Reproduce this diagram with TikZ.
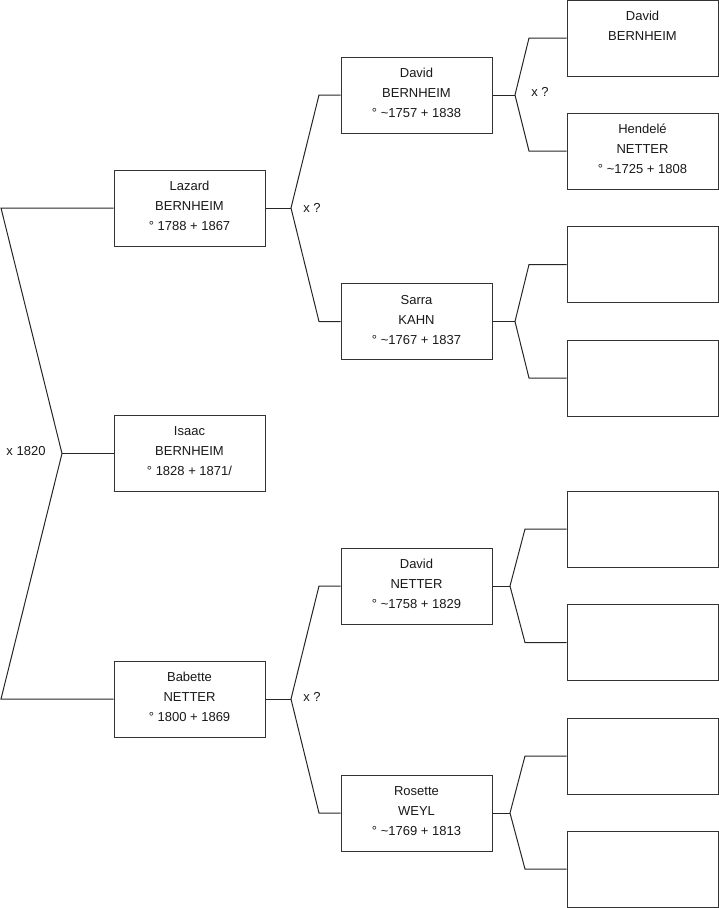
\documentclass[tikz,border=0pt]{standalone}
\usepackage{fontspec}
\setmainfont{Liberation Sans}
\begin{document}
\begin{tikzpicture}[x=1pt,y=-1pt,
  person/.style={draw=black!80, line width=1pt, fill=white, minimum width=151pt, minimum height=76pt,
    inner sep=0pt, align=center, font=\fontsize{13}{20}\selectfont, text=black!90},
  link/.style={draw=black!85, line width=1pt},
  lbl/.style={font=\fontsize{13}{14}\selectfont, inner sep=0pt, text=black!90}]
\useasboundingbox (0,0) rectangle (719,908);
% level 1
\node[person] (lazard)  at (189.5,208) {Lazard\\BERNHEIM\\° 1788 + 1867\\[-16pt]};
\node[person] (isaac)   at (189.5,453.5) {Isaac\\BERNHEIM\\° 1828 + 1871/\\[-16pt]};
\node[person] (babette) at (189.5,699) {Babette\\NETTER\\° 1800 + 1869\\[-16pt]};
% level 2
\node[person] (davidb)  at (416.5,95) {David\\BERNHEIM\\° \textasciitilde1757 + 1838\\[-16pt]};
\node[person] (sarra)   at (416.5,321.5) {Sarra\\KAHN\\° \textasciitilde1767 + 1837\\[-16pt]};
\node[person] (davidn)  at (416.5,586) {David\\NETTER\\° \textasciitilde1758 + 1829\\[-16pt]};
\node[person] (rosette) at (416.5,813) {Rosette\\WEYL\\° \textasciitilde1769 + 1813\\[-16pt]};
% level 3
\node[person] (g1) at (642.5,38)  {David\\BERNHEIM\\\mbox{}\\[-16pt]};
\node[person] (g2) at (642.5,151) {Hendelé\\NETTER\\° \textasciitilde1725 + 1808\\[-16pt]};
\node[person] (g3) at (642.5,264.5) {};
\node[person] (g4) at (642.5,378) {};
\node[person] (g5) at (642.5,529) {};
\node[person] (g6) at (642.5,642.5) {};
\node[person] (g7) at (642.5,756) {};
\node[person] (g8) at (642.5,869) {};
% root bracket
\coordinate (r0) at (62,453.5);
\coordinate (r0a) at (1,208);
\coordinate (r0b) at (1,699);
\draw[link] (lazard.west) -- (r0a) -- (r0) -- (r0b) -- (babette.west);
\draw[link] (r0) -- (isaac.west);
\node[lbl] (m0) at (26,451) {x 1820};
% Lazard
\coordinate (r1) at (291,208);
\coordinate (r1a) at (319,95);
\coordinate (r1b) at (319,321.5);
\draw[link] (lazard.east) -- (r1);
\draw[link] (davidb.west) -- (r1a) -- (r1) -- (r1b) -- (sarra.west);
\node[lbl] (m1) at (312,208) {x ?};
% Babette
\coordinate (r2) at (291,699);
\coordinate (r2a) at (319,586);
\coordinate (r2b) at (319,813);
\draw[link] (babette.east) -- (r2);
\draw[link] (davidn.west) -- (r2a) -- (r2) -- (r2b) -- (rosette.west);
\node[lbl] (m2) at (312,697) {x ?};
% David Bernheim
\coordinate (r3) at (515,95);
\coordinate (r3a) at (529,38);
\coordinate (r3b) at (529,151);
\draw[link] (davidb.east) -- (r3);
\draw[link] (g1.west) -- (r3a) -- (r3) -- (r3b) -- (g2.west);
\node[lbl] (m3) at (540,92) {x ?};
% Sarra
\coordinate (r4) at (515,321.5);
\coordinate (r4a) at (529,264.5);
\coordinate (r4b) at (529,378);
\draw[link] (sarra.east) -- (r4);
\draw[link] (g3.west) -- (r4a) -- (r4) -- (r4b) -- (g4.west);
% David Netter
\coordinate (r5) at (510,586);
\coordinate (r5a) at (525,529);
\coordinate (r5b) at (525,642.5);
\draw[link] (davidn.east) -- (r5);
\draw[link] (g5.west) -- (r5a) -- (r5) -- (r5b) -- (g6.west);
% Rosette
\coordinate (r6) at (510,813);
\coordinate (r6a) at (525,756);
\coordinate (r6b) at (525,869);
\draw[link] (rosette.east) -- (r6);
\draw[link] (g7.west) -- (r6a) -- (r6) -- (r6b) -- (g8.west);
\end{tikzpicture}
\end{document}
